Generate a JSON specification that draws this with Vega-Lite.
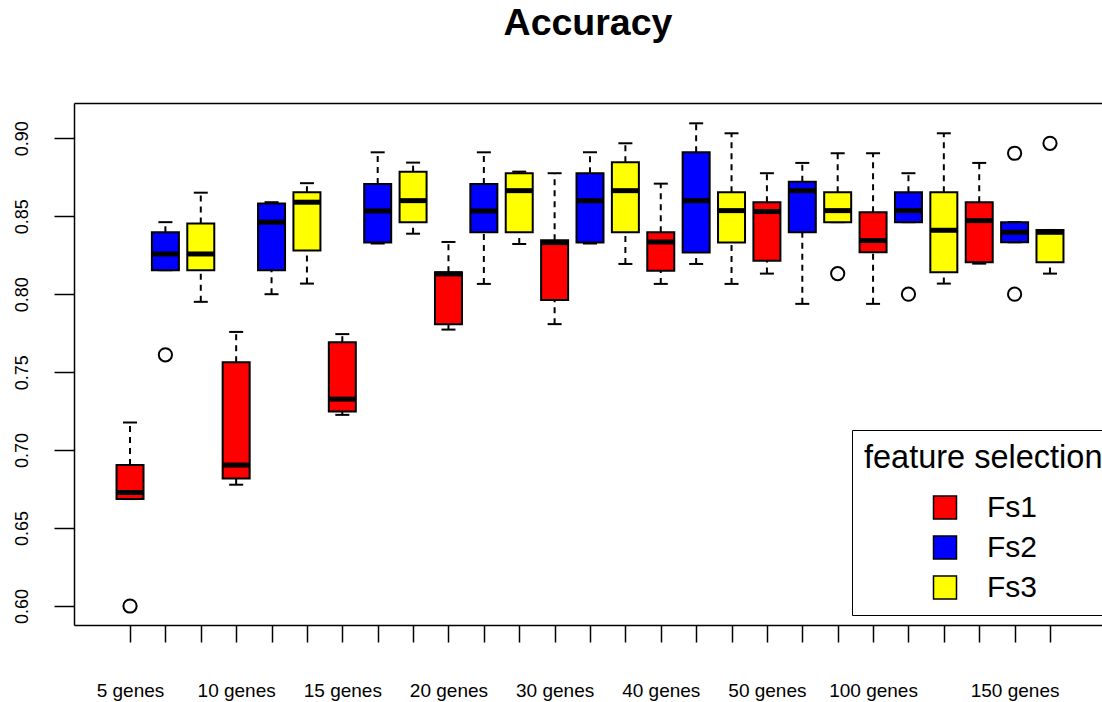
{
  "$schema": "https://vega.github.io/schema/vega-lite/v6.json",
  "autosize": {"type": "none"},
  "padding": {"left": 74, "top": 103, "right": 0, "bottom": 77},
  "width": 1028,
  "height": 522,
  "background": "white",
  "title": {"text": "Accuracy", "fontSize": 37.5, "fontWeight": "bold", "font": "Liberation Sans", "anchor": "middle", "baseline": "alphabetic", "offset": 31, "color": "black"},
  "datasets": {
    "boxes": [
      {"pos": 1, "genes": "5 genes", "fs": "Fs1", "lower": 0.6686, "q1": 0.6686, "median": 0.6728, "q3": 0.6904, "upper": 0.7177},
      {"pos": 2, "genes": "5 genes", "fs": "Fs2", "lower": 0.8154, "q1": 0.8154, "median": 0.8258, "q3": 0.8397, "upper": 0.8462},
      {"pos": 3, "genes": "5 genes", "fs": "Fs3", "lower": 0.7951, "q1": 0.8154, "median": 0.8258, "q3": 0.8453, "upper": 0.8651},
      {"pos": 4, "genes": "10 genes", "fs": "Fs1", "lower": 0.6778, "q1": 0.6818, "median": 0.6904, "q3": 0.7564, "upper": 0.7758},
      {"pos": 5, "genes": "10 genes", "fs": "Fs2", "lower": 0.8, "q1": 0.8154, "median": 0.8462, "q3": 0.8581, "upper": 0.859},
      {"pos": 6, "genes": "10 genes", "fs": "Fs3", "lower": 0.8068, "q1": 0.828, "median": 0.859, "q3": 0.8654, "upper": 0.8712},
      {"pos": 7, "genes": "15 genes", "fs": "Fs1", "lower": 0.7226, "q1": 0.7247, "median": 0.7327, "q3": 0.7692, "upper": 0.7744},
      {"pos": 8, "genes": "15 genes", "fs": "Fs2", "lower": 0.8325, "q1": 0.8331, "median": 0.8534, "q3": 0.8707, "upper": 0.891},
      {"pos": 9, "genes": "15 genes", "fs": "Fs3", "lower": 0.8388, "q1": 0.8462, "median": 0.86, "q3": 0.8786, "upper": 0.8844},
      {"pos": 10, "genes": "20 genes", "fs": "Fs1", "lower": 0.7773, "q1": 0.7808, "median": 0.813, "q3": 0.8141, "upper": 0.8335},
      {"pos": 11, "genes": "20 genes", "fs": "Fs2", "lower": 0.8066, "q1": 0.8397, "median": 0.8534, "q3": 0.8707, "upper": 0.891},
      {"pos": 12, "genes": "20 genes", "fs": "Fs3", "lower": 0.8322, "q1": 0.8397, "median": 0.8664, "q3": 0.8776, "upper": 0.8786},
      {"pos": 13, "genes": "30 genes", "fs": "Fs1", "lower": 0.7808, "q1": 0.7962, "median": 0.8331, "q3": 0.8346, "upper": 0.8776},
      {"pos": 14, "genes": "30 genes", "fs": "Fs2", "lower": 0.8325, "q1": 0.8331, "median": 0.86, "q3": 0.8776, "upper": 0.891},
      {"pos": 15, "genes": "30 genes", "fs": "Fs3", "lower": 0.8194, "q1": 0.8397, "median": 0.8664, "q3": 0.8846, "upper": 0.8968},
      {"pos": 16, "genes": "40 genes", "fs": "Fs1", "lower": 0.8066, "q1": 0.8151, "median": 0.8335, "q3": 0.8397, "upper": 0.8709},
      {"pos": 17, "genes": "40 genes", "fs": "Fs2", "lower": 0.8194, "q1": 0.8267, "median": 0.86, "q3": 0.891, "upper": 0.9096},
      {"pos": 18, "genes": "40 genes", "fs": "Fs3", "lower": 0.8066, "q1": 0.8331, "median": 0.8536, "q3": 0.8654, "upper": 0.9032},
      {"pos": 19, "genes": "50 genes", "fs": "Fs1", "lower": 0.8132, "q1": 0.8215, "median": 0.853, "q3": 0.859, "upper": 0.8776},
      {"pos": 20, "genes": "50 genes", "fs": "Fs2", "lower": 0.7938, "q1": 0.8397, "median": 0.8664, "q3": 0.8722, "upper": 0.8842},
      {"pos": 21, "genes": "50 genes", "fs": "Fs3", "lower": 0.8462, "q1": 0.8462, "median": 0.8536, "q3": 0.8654, "upper": 0.8904},
      {"pos": 22, "genes": "100 genes", "fs": "Fs1", "lower": 0.7938, "q1": 0.8269, "median": 0.8344, "q3": 0.8526, "upper": 0.8904},
      {"pos": 23, "genes": "100 genes", "fs": "Fs2", "lower": 0.8462, "q1": 0.8462, "median": 0.8536, "q3": 0.8654, "upper": 0.8776},
      {"pos": 24, "genes": "100 genes", "fs": "Fs3", "lower": 0.8068, "q1": 0.8141, "median": 0.841, "q3": 0.8654, "upper": 0.9032},
      {"pos": 25, "genes": "150 genes", "fs": "Fs1", "lower": 0.8196, "q1": 0.8205, "median": 0.8472, "q3": 0.859, "upper": 0.8842},
      {"pos": 26, "genes": "150 genes", "fs": "Fs2", "lower": 0.8333, "q1": 0.8333, "median": 0.8397, "q3": 0.8462, "upper": 0.8462},
      {"pos": 27, "genes": "150 genes", "fs": "Fs3", "lower": 0.8132, "q1": 0.8205, "median": 0.8397, "q3": 0.8412, "upper": 0.8412}
    ],
    "outliers": [
      {"pos": 1, "fs": "Fs1", "value": 0.6},
      {"pos": 2, "fs": "Fs2", "value": 0.7611},
      {"pos": 21, "fs": "Fs3", "value": 0.8132},
      {"pos": 23, "fs": "Fs2", "value": 0.8},
      {"pos": 26, "fs": "Fs2", "value": 0.8904},
      {"pos": 26, "fs": "Fs2", "value": 0.8},
      {"pos": 27, "fs": "Fs3", "value": 0.8968}
    ]
  },
  "layer": [
    {
      "data": {"name": "boxes"},
      "mark": {"type": "rule", "stroke": "black", "strokeWidth": 2, "strokeDash": [6, 5]},
      "encoding": {
        "x": {"field": "pos", "type": "quantitative", "scale": {"domain": [-0.583, 28.47], "nice": false, "zero": false, "padding": 0},
              "axis": {"orient": "top", "labels": false, "ticks": false, "domain": true, "domainColor": "black", "domainWidth": 1.5, "title": null, "grid": false}},
        "y": {"field": "q3", "type": "quantitative", "title": null, "scale": {"domain": [0.58782, 0.92263], "nice": false, "zero": false, "padding": 0}},
        "y2": {"field": "upper"}
      }
    },
    {
      "data": {"name": "boxes"},
      "mark": {"type": "rule", "stroke": "black", "strokeWidth": 2, "strokeDash": [6, 5]},
      "encoding": {
        "x": {"field": "pos", "type": "quantitative", "axis": null},
        "y": {"field": "lower", "type": "quantitative", "title": null},
        "y2": {"field": "q1"}
      }
    },
    {
      "data": {"name": "boxes"},
      "mark": {"type": "tick", "orient": "horizontal", "color": "black", "size": 14, "thickness": 2, "opacity": 1},
      "encoding": {
        "x": {"field": "pos", "type": "quantitative", "axis": null},
        "y": {"field": "upper", "type": "quantitative", "title": null}
      }
    },
    {
      "data": {"name": "boxes"},
      "mark": {"type": "tick", "orient": "horizontal", "color": "black", "size": 14, "thickness": 2, "opacity": 1},
      "encoding": {
        "x": {"field": "pos", "type": "quantitative", "axis": null},
        "y": {"field": "lower", "type": "quantitative", "title": null}
      }
    },
    {
      "data": {"name": "boxes"},
      "mark": {"type": "bar", "orient": "vertical", "size": 27, "stroke": "black", "strokeWidth": 2, "opacity": 1},
      "encoding": {
        "x": {"field": "pos", "type": "quantitative",
              "axis": {"orient": "bottom", "values": [1,2,3,4,5,6,7,8,9,10,11,12,13,14,15,16,17,18,19,20,21,22,23,24,25,26,27],
                       "tickSize": 17, "tickWidth": 1.5, "tickColor": "black", "domainColor": "black", "domainWidth": 1.5,
                       "labelFontSize": 19, "labelFont": "Liberation Sans", "labelColor": "black", "labelPadding": 54,
                       "labelBaseline": "alphabetic", "labelAngle": 0, "labelAlign": "center", "labelOverlap": false, "labelFlush": false,
                       "title": null, "grid": false,
                       "labelExpr": "datum.value == 1 ? '5 genes' : datum.value == 4 ? '10 genes' : datum.value == 7 ? '15 genes' : datum.value == 10 ? '20 genes' : datum.value == 13 ? '30 genes' : datum.value == 16 ? '40 genes' : datum.value == 19 ? '50 genes' : datum.value == 22 ? '100 genes' : datum.value == 26 ? '150 genes' : ''"}},
        "y": {"field": "q1", "type": "quantitative", "title": null,
              "axis": {"values": [0.6, 0.65, 0.7, 0.75, 0.8, 0.85, 0.9], "format": ".2f", "labelAngle": 270, "labelAlign": "center",
                       "labelBaseline": "alphabetic", "labelPadding": 27, "tickSize": 20, "tickWidth": 1.5, "tickColor": "black",
                       "domainColor": "black", "domainWidth": 1.5, "labelFontSize": 18, "labelFont": "Liberation Sans",
                       "labelColor": "black", "labelFlush": false, "labelOverlap": false, "grid": false, "title": null}},
        "y2": {"field": "q3"},
        "color": {"field": "fs", "type": "nominal",
                  "scale": {"domain": ["Fs1", "Fs2", "Fs3"], "range": ["#FF0000", "#0000FF", "#FFFF00"]},
                  "legend": {"title": "feature selection", "orient": "none", "legendX": 778, "legendY": 327, "padding": 12,
                             "strokeColor": "black", "fillColor": "white",
                             "titleFontSize": 32.5, "titleFontWeight": "normal", "titleColor": "black", "titleFont": "Liberation Sans",
                             "titlePadding": 18, "titleLimit": 500,
                             "labelFontSize": 30, "labelColor": "black", "labelFont": "Liberation Sans",
                             "symbolType": "square", "symbolSize": 529, "symbolStrokeColor": "black", "symbolStrokeWidth": 1.5,
                             "symbolOpacity": 1, "symbolOffset": 66, "labelOffset": 27, "rowPadding": 10}}
      }
    },
    {
      "data": {"name": "boxes"},
      "mark": {"type": "tick", "orient": "horizontal", "color": "black", "size": 27, "thickness": 5, "opacity": 1},
      "encoding": {
        "x": {"field": "pos", "type": "quantitative", "axis": null},
        "y": {"field": "median", "type": "quantitative", "title": null}
      }
    },
    {
      "data": {"name": "outliers"},
      "mark": {"type": "point", "shape": "circle", "filled": false, "stroke": "black", "strokeWidth": 2, "size": 175, "opacity": 1},
      "encoding": {
        "x": {"field": "pos", "type": "quantitative", "axis": null},
        "y": {"field": "value", "type": "quantitative", "title": null}
      }
    }
  ],
  "resolve": {"axis": {"x": "independent"}},
  "config": {
    "view": {"stroke": null},
    "font": "Liberation Sans",
    "axis": {"grid": false}
  }
}
